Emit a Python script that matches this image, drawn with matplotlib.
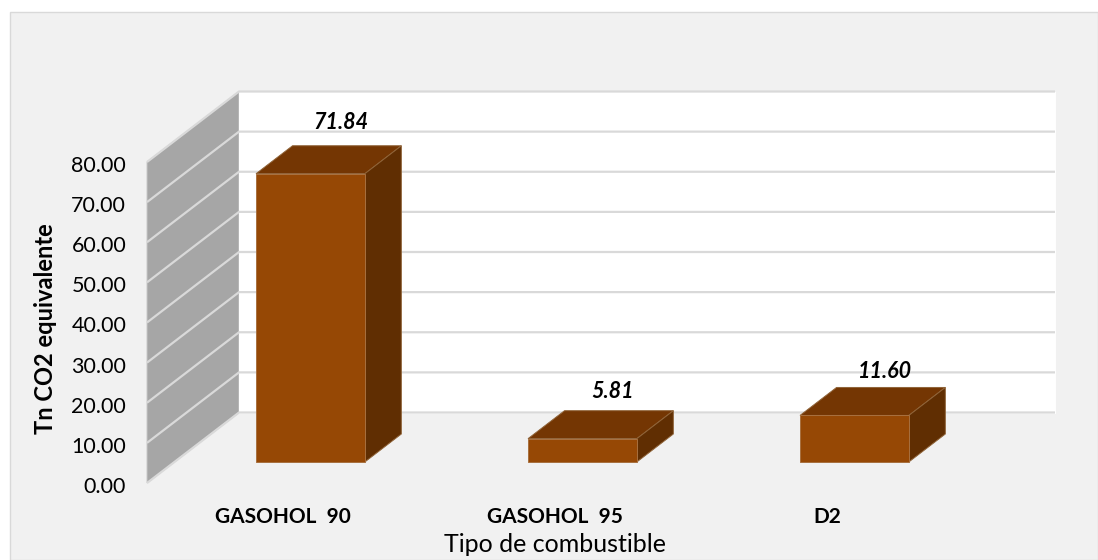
import matplotlib
matplotlib.use('Agg')
import matplotlib.pyplot as plt
from matplotlib.patches import Rectangle
from matplotlib.transforms import ScaledTranslation

# Emissions per fuel type, drawn as an oblique 3D column chart

categories = ['GASOHOL  90', 'GASOHOL  95', 'D2']
values = [71.84, 5.81, 11.60]
value_labels = ['71.84', '5.81', '11.60']
y_ticks = [0, 10, 20, 30, 40, 50, 60, 70, 80]

W, H = 1098, 560
SKEW_X = 92 / 272      # depth of the chart in category units
SKEW_Y = 70.5 / 4.0125 # depth of the chart in value units
BAR_W = 0.4
BAR_Z0 = 0.298
BAR_Z1 = 0.695
LABEL_LIFT = [17.9, 16.9, 16.3]


def proj(x, v, z):
    return x + z * SKEW_X, v + z * SKEW_Y


def face(ax, pts, color, edge=None, zorder=2):
    xs = [p[0] for p in pts]
    ys = [p[1] for p in pts]
    ax.fill(xs, ys, facecolor=color, edgecolor=edge or color, linewidth=0.7,
            zorder=zorder, clip_on=False)


plt.rcParams['font.family'] = ['Lato', 'DejaVu Sans']
fig = plt.figure(figsize=(W / 100, H / 100), dpi=100, facecolor='white')
fig.add_artist(Rectangle((10 / W, 0), (W - 10) / W, (H - 12) / H, transform=fig.transFigure,
                         facecolor='#f1f1f1', edgecolor='#d9d9d9', linewidth=1, zorder=-1))

ax = fig.add_axes([147 / W, (H - 483) / H, 908 / W, 391 / H])
ax.set_facecolor('none')
ax.set_xlim(-0.5, 2.5 + SKEW_X)
ax.set_ylim(0, 391 / 4.0125)
for s in ax.spines.values():
    s.set_visible(False)

# walls
x0, x1 = -0.5, 2.5
face(ax, [proj(x0, 0, 0), proj(x0, 80, 0), proj(x0, 80, 1), proj(x0, 0, 1)], '#a6a6a6', '#c8c8c8', 1)
face(ax, [proj(x0, 0, 1), proj(x0, 80, 1), proj(x1, 80, 1), proj(x1, 0, 1)], 'white', 'white', 1)

# gridlines run along the side wall and then the back wall
for v in y_ticks:
    pts = [proj(x0, v, 0), proj(x0, v, 1), proj(x1, v, 1)]
    ax.plot([p[0] for p in pts], [p[1] for p in pts], color='#d9d9d9', lw=1.6, zorder=1.5,
            clip_on=False, solid_capstyle='butt')

# columns
for i, v in enumerate(values):
    l, r = i - BAR_W / 2, i + BAR_W / 2
    face(ax, [proj(l, v, BAR_Z0), proj(r, v, BAR_Z0), proj(r, v, BAR_Z1), proj(l, v, BAR_Z1)],
         '#743603', '#8f6338', 2)
    face(ax, [proj(r, 0, BAR_Z0), proj(r, v, BAR_Z0), proj(r, v, BAR_Z1), proj(r, 0, BAR_Z1)],
         '#602e02', '#8f6338', 2)
    face(ax, [proj(l, 0, BAR_Z0), proj(r, 0, BAR_Z0), proj(r, v, BAR_Z0), proj(l, v, BAR_Z0)],
         '#964805', '#a8703f', 3)
    ax.text(i + 0.213, v + LABEL_LIFT[i], value_labels[i], ha='center', va='center', fontsize=15.5,
            fontweight='bold', fontstyle='italic', color='black', zorder=5)

ax.set_yticks(y_ticks)
ax.set_yticklabels(['%.2f' % t for t in y_ticks], fontsize=15.5, color='black')
ax.set_xticks(range(len(categories)))
ax.set_xticklabels(categories, fontsize=15, fontweight='bold', color='black')
ax.tick_params(axis='y', length=0, pad=15)
ax.tick_params(axis='x', length=0, pad=17)

# tick labels sit a little below their gridlines
shift = ScaledTranslation(0, -2 / 72 * 0.72, fig.dpi_scale_trans)
for lab in ax.get_yticklabels():
    lab.set_transform(lab.get_transform() + shift)

ax.set_ylabel('Tn CO2 equivalente', fontsize=17, fontweight='bold', color='black')
ax.yaxis.set_label_coords((46 - 147) / 908, (483 - 329) / 391)
ax.set_xlabel('Tipo de combustible', fontsize=18, color='black')
ax.xaxis.set_label_coords((555 - 147) / 908, (483 - 544) / 391)
ax.xaxis.label.set_verticalalignment('center')
ax.yaxis.label.set_verticalalignment('center')

fig.savefig('out.png', dpi=100, facecolor='white')
